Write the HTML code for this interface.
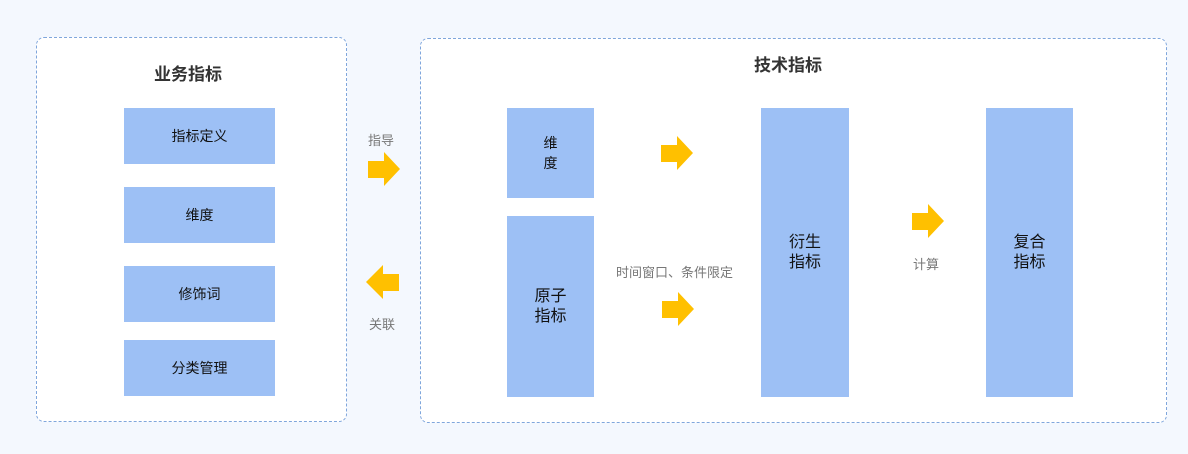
<!DOCTYPE html>
<html><head><meta charset="utf-8"><style>
body{margin:0;width:1188px;height:454px;background:#f4f8fe;position:relative;font-family:"Liberation Sans","Noto Sans CJK SC",sans-serif;overflow:hidden}
.panel{position:absolute;background:#fff;border:1px dashed #7fa6dc;border-radius:8px;box-sizing:border-box}
.b{position:absolute;background:#9dc0f5;display:flex;align-items:center;justify-content:center;text-align:center;color:#111;font-size:14px}
.t{position:absolute;font-size:13px;color:#777}
.h{position:absolute;font-size:17px;font-weight:bold;color:#333}
svg{position:absolute}
</style></head><body>
<div class="panel" style="left:36px;top:37px;width:311px;height:385px"></div>
<div class="panel" style="left:420px;top:38px;width:747px;height:385px"></div>
<div class="h" style="left:154px;top:60px">业务指标</div>
<div class="h" style="left:754px;top:51px">技术指标</div>
<div class="b" style="left:124px;top:108px;width:151px;height:56px">指标定义</div>
<div class="b" style="left:124px;top:187px;width:151px;height:56px">维度</div>
<div class="b" style="left:124px;top:266px;width:151px;height:56px">修饰词</div>
<div class="b" style="left:124px;top:340px;width:151px;height:56px">分类管理</div>
<div class="b" style="left:507px;top:108px;width:87px;height:90px;line-height:20px">维<br>度</div>
<div class="b" style="left:507px;top:216px;width:87px;height:181px;font-size:16px;line-height:20px">原子<br>指标</div>
<div class="b" style="left:761px;top:108px;width:88px;height:289px;font-size:16px;line-height:20px">衍生<br>指标</div>
<div class="b" style="left:986px;top:108px;width:87px;height:289px;font-size:16px;line-height:20px">复合<br>指标</div>
<div class="t" style="left:368px;top:130px">指导</div>
<div class="t" style="left:369px;top:314px">关联</div>
<div class="t" style="left:616px;top:262px">时间窗口、条件限定</div>
<div class="t" style="left:913px;top:254px">计算</div>
<svg width="1188" height="454" style="left:0;top:0">
<g fill="#ffc000">
<polygon points="368,161 384,161 384,152 400,169 384,186 384,178 368,178"/>
<polygon points="399,274 383,274 383,265 366,282 383,299 383,291 399,291"/>
<polygon points="661,145 677,145 677,136 693,153 677,170 677,162 661,162"/>
<polygon points="912,213 928,213 928,204 944,221 928,238 928,230 912,230"/>
<polygon points="662,301 678,301 678,292 694,309 678,326 678,318 662,318"/>
</g></svg>
</body></html>
